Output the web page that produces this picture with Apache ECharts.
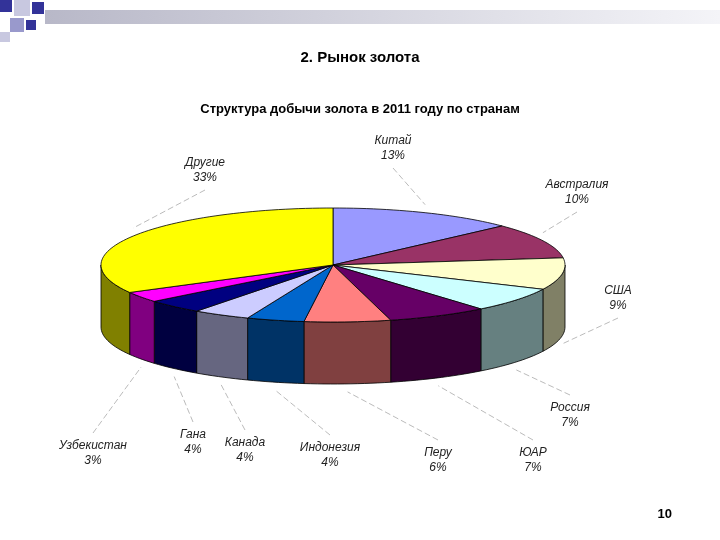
<!DOCTYPE html>
<html><head><meta charset="utf-8">
<script src="https://cdn.jsdelivr.net/npm/echarts@6/dist/echarts.min.js"></script>
<style>html,body{margin:0;background:#fff}#c{width:720px;height:540px}</style>
</head><body><div id="c"></div>
<script>
// данные
const countries = ["Китай", "Австралия", "США", "Россия", "ЮАР", "Перу", "Индонезия", "Канада", "Гана", "Узбекистан", "Другие"];
const shares = [13, 10, 9, 7, 7, 6, 4, 4, 4, 3, 33];
const colors = ["#9999ff", "#993366", "#ffffcc", "#ccffff", "#660066", "#ff8080", "#0066cc", "#ccccff", "#000080", "#ff00ff", "#ffff00"];
const wallColors = ["#666699", "#4d1a33", "#808066", "#668080", "#330033", "#804040", "#003366", "#666680", "#000040", "#800080", "#808000"];
// позиции подписей
const labelPos = [[393, 148], [577, 192], [618, 298], [570, 415], [533, 460], [438, 460], [330, 455], [245, 450], [193, 442], [93, 453], [205, 170]];

const CX = 333, CY = 265, RX = 232, RY = 57, DEPTH = 62;
const total = shares.reduce((a, b) => a + b, 0);
const starts = [];
shares.reduce((acc, v) => { starts.push(acc); return acc + v; }, 0);

function pt(th, dy) {
  return [CX + RX * Math.sin(th), CY - RY * Math.cos(th) + (dy || 0)];
}
function arc(a0, a1, dy) {
  const pts = [], n = Math.max(2, Math.ceil((a1 - a0) / 0.03));
  for (let i = 0; i <= n; i++) pts.push(pt(a0 + (a1 - a0) * i / n, dy));
  return pts;
}

function renderItem(params, api) {
  const i = params.dataIndex;
  const a0 = starts[i] / total * 2 * Math.PI;
  const a1 = (starts[i] + api.value(0)) / total * 2 * Math.PI;
  const children = [];
  // боковая стенка (видна в нижней половине)
  const w0 = Math.max(a0, Math.PI / 2), w1 = Math.min(a1, 3 * Math.PI / 2);
  if (w1 > w0) {
    const top = arc(w0, w1, 0), bot = arc(w0, w1, DEPTH).reverse();
    children.push({ type: "polygon", z2: 1, shape: { points: top.concat(bot) },
      style: { fill: wallColors[i], stroke: "#000", lineWidth: 0.8 } });
  }
  children.push({ type: "polygon", z2: 10, shape: { points: [[CX, CY]].concat(arc(a0, a1, 0)) },
    style: { fill: colors[i], stroke: "#000", lineWidth: 0.8 } });
  // подпись и линия-выноска
  const mid = (a0 + a1) / 2;
  const front = Math.cos(mid) < 0;
  const anchor = pt(mid, front ? DEPTH + 8 : -8);
  const lp = labelPos[i];
  const ly = lp[1] + (lp[1] > anchor[1] ? -20 : 20);
  children.push({ type: "line", z2: 0, shape: { x1: lp[0], y1: ly, x2: anchor[0], y2: anchor[1] },
    style: { stroke: "#aaa", lineWidth: 0.8, lineDash: [6, 3] } });
  children.push({ type: "text", z2: 20, x: lp[0], y: lp[1],
    style: { text: countries[i] + "\n" + api.value(0) + "%", fill: "#222", align: "center", verticalAlign: "middle",
      font: "italic 12px Arial, 'Liberation Sans'", lineHeight: 15 } });
  return { type: "group", children };
}

const chart = echarts.init(document.getElementById("c"));
chart.setOption({
  animation: false,
  title: {
    text: "Структура добычи золота в 2011 году по странам",
    left: "center", top: 98,
    textStyle: { fontSize: 13, fontWeight: "bold", color: "#000", fontFamily: "Arial, 'Liberation Sans'" }
  },
  graphic: [
    { type: "rect", shape: { x: 45, y: 10, width: 675, height: 14 },
      style: { fill: new echarts.graphic.LinearGradient(0, 0, 1, 0, [{ offset: 0, color: "#b8b8c8" }, { offset: 1, color: "#f4f4f8" }]) } },
    { type: "rect", shape: { x: 0, y: 0, width: 12, height: 12 }, style: { fill: "#333399" } },
    { type: "rect", shape: { x: 14, y: 0, width: 16, height: 16 }, style: { fill: "#c8c8e0" } },
    { type: "rect", shape: { x: 32, y: 2, width: 12, height: 12 }, style: { fill: "#333399" } },
    { type: "rect", shape: { x: 10, y: 18, width: 14, height: 14 }, style: { fill: "#9999cc" } },
    { type: "rect", shape: { x: 26, y: 20, width: 10, height: 10 }, style: { fill: "#333399" } },
    { type: "rect", shape: { x: 0, y: 32, width: 10, height: 10 }, style: { fill: "#c8c8e0" } },
    { type: "text", left: "center", top: 50,
      style: { text: "2. Рынок золота", font: "bold 15px Arial, 'Liberation Sans'", fill: "#000" } },
    { type: "text", right: 48, top: 508,
      style: { text: "10", font: "bold 13px Arial, 'Liberation Sans'", fill: "#000" } }
  ],
  series: [{
    type: "custom",
    coordinateSystem: "none",
    renderItem: renderItem,
    data: shares.map(v => [v])
  }]
});
</script></body></html>
